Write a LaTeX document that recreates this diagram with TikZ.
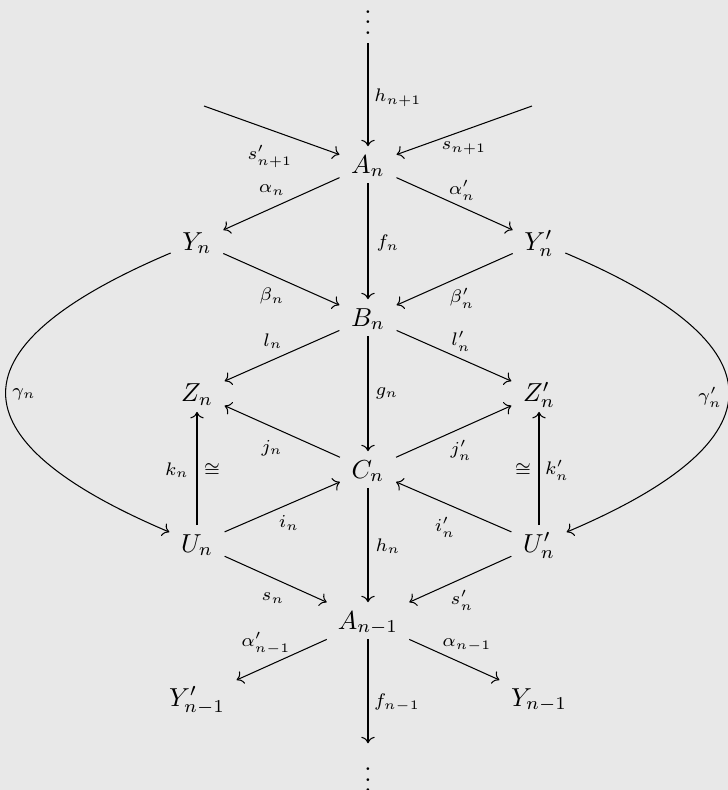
\documentclass[tikz,border=0pt]{standalone}
\usetikzlibrary{cd}
\definecolor{bgc}{RGB}{232,232,232}
\begin{document}
\begin{tikzpicture}[x=0.3846pt,y=0.3846pt,
  obj/.style={anchor=base, inner xsep=4.3pt, inner ysep=3.3pt, text height=6.8pt, text depth=0.5pt},
  dts/.style={anchor=base, inner xsep=4.3pt, inner ysep=3.3pt},
  arr/.style={-{cm to}, line width=0.4pt},
  lbl/.style={font=\scriptsize, inner sep=0pt}]
\fill[bgc] (0,0) rectangle (728,-790);
\useasboundingbox (0,0) rectangle (728,-790);
% objects
\node[dts] (top) at (368,-34.3) {$\vdots$};
\node[obj] (An) at (368,-173) {$A_n$};
\node[obj] (Yn) at (197,-250) {$Y_n$};
\node[obj] (Ypn) at (539,-250) {$Y'_n$};
\node[obj] (Bn) at (368,-326) {$B_n$};
\node[obj] (Zn) at (197,-401.5) {$Z_n$};
\node[obj] (Zpn) at (539,-401.5) {$Z'_n$};
\node[obj] (Cn) at (368,-478) {$C_n$};
\node[obj] (Un) at (197,-552) {$U_n$};
\node[obj] (Upn) at (539,-552) {$U'_n$};
\node[obj] (Am) at (368,-629) {$A_{n-1}$};
\node[obj] (Ypm) at (197,-706) {$Y'_{n-1}$};
\node[obj] (Ym) at (539,-706) {$Y_{n-1}$};
\node[dts] (bot) at (368,-791.5) {$\vdots$};
\coordinate (fl) at (204,-106);
\coordinate (fr) at (532,-106);
% arrows
\draw[arr] (top) -- (An) node[lbl] at (398,-98) {$h_{n+1}$};
\draw[arr] (fl) -- (An) node[lbl] at (270,-156) {$s'_{n+1}$};
\draw[arr] (fr) -- (An) node[lbl] at (464,-148) {$s_{n+1}$};
\draw[arr] (An) -- (Yn) node[lbl] at (272,-190) {$\alpha_n$};
\draw[arr] (An) -- (Ypn) node[lbl] at (462,-190) {$\alpha'_n$};
\draw[arr] (An) -- (Bn) node[lbl] at (388,-243) {$f_n$};
\draw[arr] (Yn) -- (Bn) node[lbl] at (272,-296) {$\beta_n$};
\draw[arr] (Ypn) -- (Bn) node[lbl] at (462,-298) {$\beta'_n$};
\draw[arr] (Bn) -- (Zn) node[lbl] at (273,-341) {$l_n$};
\draw[arr] (Bn) -- (Zpn) node[lbl] at (461,-341) {$l'_n$};
\draw[arr] (Bn) -- (Cn) node[lbl] at (387,-393) {$g_n$};
\draw[arr] (Cn) -- (Zn) node[lbl] at (272,-448) {$j_n$};
\draw[arr] (Cn) -- (Zpn) node[lbl] at (461,-450) {$j'_n$};
\draw[arr] (Un) -- (Zn) node[lbl] at (177,-470) {$k_n$} node[lbl] at (212,-470) {$\cong$};
\draw[arr] (Upn) -- (Zpn) node[lbl] at (557,-470) {$k'_n$} node[lbl] at (523,-470) {$\cong$};
\draw[arr] (Un) -- (Cn) node[lbl] at (289,-523) {$i_n$};
\draw[arr] (Upn) -- (Cn) node[lbl] at (445,-527) {$i'_n$};
\draw[arr] (Cn) -- (Am) node[lbl] at (388,-546) {$h_n$};
\draw[arr] (Un) -- (Am) node[lbl] at (273,-598) {$s_n$};
\draw[arr] (Upn) -- (Am) node[lbl] at (462,-600) {$s'_n$};
\draw[arr] (Am) -- (Ypm) node[lbl] at (266,-643) {$\alpha'_{n-1}$};
\draw[arr] (Am) -- (Ym) node[lbl] at (467,-645) {$\alpha_{n-1}$};
\draw[arr] (Am) -- (bot) node[lbl] at (397,-703) {$f_{n-1}$};
\draw[arr] (Yn.203) .. controls +(203:238) and +(157:238) .. (Un.157) node[lbl] at (24,-394) {$\gamma_n$};
\draw[arr] (Ypn.-23) .. controls +(-23:236) and +(23:236) .. (Upn.23) node[lbl] at (710,-397) {$\gamma'_n$};
\end{tikzpicture}
\end{document}
